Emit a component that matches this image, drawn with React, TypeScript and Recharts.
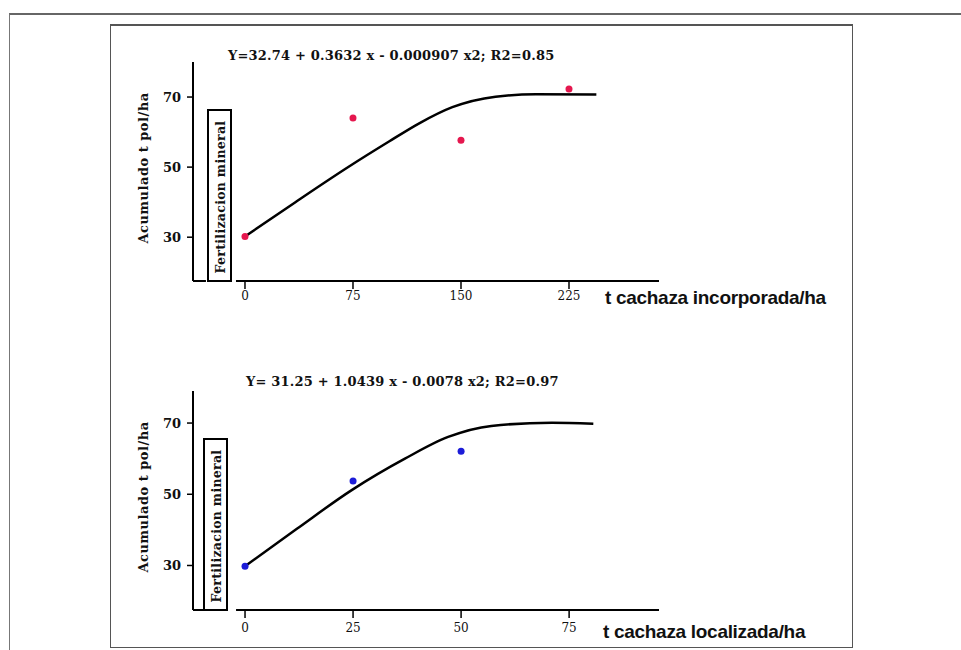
import React from 'react';
import { ComposedChart, Line, Scatter, XAxis, YAxis, ReferenceLine } from 'recharts';

// top panel: incorporated filter cake (t/ha)
const incorpDoses = [0, 75, 150, 225];
const incorpObserved = [30.2, 64, 57.7, 72.3];
const incorpFitX = [0, 35, 72, 100, 121, 144, 174, 202, 244];
const incorpFitY = [30.2, 40, 50.1, 57.3, 62.5, 67.1, 70.1, 70.8, 70.7];

// bottom panel: localized filter cake (t/ha)
const localDoses = [0, 25, 50];
const localObserved = [29.8, 53.7, 62.1];
const localFitX = [0, 12, 24.6, 37, 47, 57, 71, 80.6];
const localFitY = [29.8, 40.3, 51.1, 60, 66.1, 69.2, 70.1, 69.8];

const incorpTicks = [0, 75, 150, 225];
const localTicks = [0, 25, 50, 75];
const yTicks = [30, 50, 70];

const serif = '"DejaVu Serif", serif';

const toRows = (xs: number[], ys: number[]) => xs.map((x, i) => ({ x, y: ys[i] }));

interface PanelProps {
  top: number;
  points: { x: number; y: number }[];
  curve: { x: number; y: number }[];
  xDomain: [number, number];
  xTicks: number[];
  yDomain: [number, number];
  axisStart: number;
  cornerEnd: number;
  color: string;
  tickMargin: number;
}

const Dot = (props: any) => {
  const { cx, cy, fill } = props;
  if (cx == null || cy == null) return null;
  return <circle cx={cx} cy={cy} r={3.5} fill={fill} />;
};

const Panel: React.FC<PanelProps> = ({
  top, points, curve, xDomain, xTicks, yDomain, axisStart, cornerEnd, color, tickMargin,
}) => {
  const yMin = yDomain[0];
  return (
    <div style={{ position: 'absolute', left: 0, top, width: 961, height: 330 }}>
      <ComposedChart width={961} height={330} margin={{ top: 62, right: 302, bottom: 19, left: 133 }}>
        <XAxis
          type="number"
          dataKey="x"
          domain={xDomain}
          ticks={xTicks}
          interval={0}
          allowDataOverflow
          axisLine={false}
          tickLine={{ stroke: '#000', strokeWidth: 1.5 }}
          tickSize={8}
          tickMargin={tickMargin}
          height={30}
          tick={{ fill: '#111', fontFamily: serif, fontSize: 12 }}
        />
        <YAxis
          type="number"
          dataKey="y"
          domain={yDomain}
          ticks={yTicks}
          allowDataOverflow
          width={60}
          axisLine={{ stroke: '#000', strokeWidth: 2 }}
          tickLine={{ stroke: '#000', strokeWidth: 1.5 }}
          tickSize={6}
          tickMargin={6}
          tick={{ fill: '#111', fontFamily: serif, fontSize: 13, fontWeight: 'bold' }}
        />
        <ReferenceLine
          segment={[{ x: axisStart, y: yMin }, { x: xDomain[1], y: yMin }]}
          stroke="#000"
          strokeWidth={2}
        />
        <ReferenceLine
          segment={[{ x: xDomain[0], y: yMin }, { x: cornerEnd, y: yMin }]}
          stroke="#000"
          strokeWidth={2}
        />
        <Line
          data={curve}
          dataKey="y"
          type="monotone"
          stroke="#000"
          strokeWidth={2.5}
          dot={false}
          isAnimationActive={false}
        />
        <Scatter data={points} dataKey="y" fill={color} shape={<Dot />} isAnimationActive={false} />
      </ComposedChart>
    </div>
  );
};

const Rotated: React.FC<{ cx: number; cy: number; size: number; spacing?: number; children: React.ReactNode }> = ({
  cx, cy, size, spacing = 0, children,
}) => (
  <div
    style={{
      position: 'absolute', left: cx, top: cy, transform: 'translate(-50%, -50%) rotate(-90deg)',
      whiteSpace: 'nowrap', fontFamily: serif, fontWeight: 'bold', fontSize: size, color: '#111', lineHeight: 1,
      letterSpacing: spacing,
    }}
  >
    {children}
  </div>
);

const Box: React.FC<{ left: number; top: number; width: number; height: number }> = ({ left, top, width, height }) => (
  <div
    style={{
      position: 'absolute', left, top, width, height, boxSizing: 'border-box', border: '2px solid #000', background: '#fff',
    }}
  >
    <Rotated cx={width / 2 - 1} cy={height / 2 - 1} size={12.5} spacing={0.3}>Fertilizacion mineral</Rotated>
  </div>
);

const Equation: React.FC<{ left: number; top: number; text: string }> = ({ left, top, text }) => (
  <div
    style={{
      position: 'absolute', left, top, whiteSpace: 'nowrap', fontFamily: serif, fontWeight: 'bold', fontSize: 13, color: '#111', lineHeight: 1,
      letterSpacing: 0.2,
    }}
  >
    {text}
  </div>
);

const AxisTitle: React.FC<{ left: number; top: number; text: string }> = ({ left, top, text }) => (
  <div
    style={{
      position: 'absolute', left, top, whiteSpace: 'nowrap', fontFamily: '"Liberation Sans", Arial, sans-serif',
      fontWeight: 'bold', fontSize: 19, color: '#111', lineHeight: 1, letterSpacing: -0.3,
    }}
  >
    {text}
  </div>
);

const App: React.FC = () => {
  const incorpPoints = toRows(incorpDoses, incorpObserved);
  const incorpCurve = toRows(incorpFitX, incorpFitY);
  const localPoints = toRows(localDoses, localObserved);
  const localCurve = toRows(localFitX, localFitY);

  return (
    <div style={{ position: 'absolute', left: 0, top: 0, width: 961, height: 650, overflow: 'hidden', background: '#fff' }}>
      {/* outer frame */}
      <div style={{ position: 'absolute', left: 9, top: 13, width: 952, height: 700, borderTop: '2px solid #666', borderLeft: '1px solid #777' }} />
      <div style={{ position: 'absolute', left: 110, top: 24, width: 743, height: 624, boxSizing: 'border-box', border: '1px solid #555', borderTop: '2px solid #555' }} />

      <Panel
        top={0}
        points={incorpPoints}
        curve={incorpCurve}
        xDomain={[-36.1, 287.5]}
        xTicks={incorpTicks}
        yDomain={[17.5, 80]}
        axisStart={-6.25}
        cornerEnd={-27.1}
        color="#e5174e"
        tickMargin={2}
      />
      <Panel
        top={329}
        points={localPoints}
        curve={localCurve}
        xDomain={[-12.04, 95.8]}
        xTicks={localTicks}
        yDomain={[17.5, 79]}
        axisStart={-2.08}
        cornerEnd={-9.5}
        color="#1c1cd8"
        tickMargin={5}
      />

      <Equation left={228} top={49} text="Y=32.74 + 0.3632 x - 0.000907 x2; R2=0.85" />
      <Equation left={246} top={375} text="Y= 31.25 + 1.0439 x - 0.0078 x2; R2=0.97" />

      <Rotated cx={143} cy={168} size={13} spacing={0.5}>Acumulado t pol/ha</Rotated>
      <Rotated cx={143} cy={497} size={13} spacing={0.5}>Acumulado t pol/ha</Rotated>

      <Box left={207} top={109} width={25} height={173} />
      <Box left={203} top={438} width={25} height={173} />

      <AxisTitle left={605} top={288} text="t cachaza incorporada/ha" />
      <AxisTitle left={603} top={622} text="t cachaza localizada/ha" />
    </div>
  );
};

export default App;
